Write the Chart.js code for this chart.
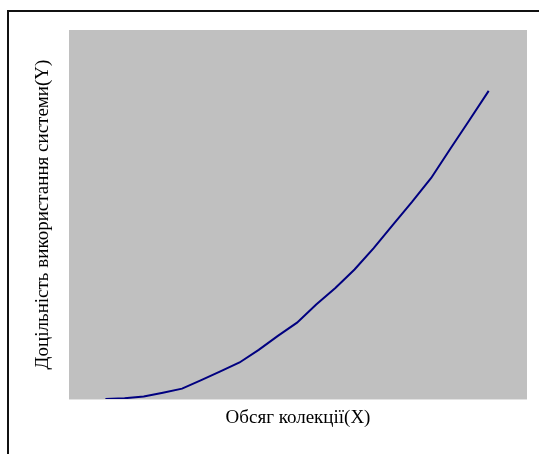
<!DOCTYPE html>
<html>
<head>
<meta charset="utf-8">
<script src="https://cdn.jsdelivr.net/npm/chart.js@4.4.1/dist/chart.umd.min.js"></script>
<style>
  html, body { margin: 0; padding: 0; background: #ffffff; }
  #wrap { position: relative; width: 539px; height: 454px; }
</style>
</head>
<body>
<div id="wrap"><canvas id="c" width="539" height="454"></canvas></div>
<script>
// Data
const xValues = [2, 3, 4, 5, 6, 7, 8, 9, 10, 11, 12, 13, 14, 15, 16, 17, 18, 19, 20, 21, 22];
const yValues = [0, 0.2, 0.7, 1.7, 2.8, 5.1, 7.5, 9.9, 13.3, 17.1, 20.7, 25.6, 30.1, 35.1, 40.9, 47.2, 53.4, 59.9, 67.8, 75.6, 83.5];
const xTitle = 'Обсяг колекції(X)';
const yTitle = 'Доцільність використання системи(Y)';

const points = xValues.map((x, i) => ({ x: x, y: yValues[i] }));

const plotBg = {
  id: 'plotBg',
  beforeDraw(chart) {
    const { ctx, chartArea: a } = chart;
    ctx.save();
    ctx.fillStyle = '#c0c0c0';
    ctx.fillRect(a.left, a.top, a.right - a.left, a.bottom - a.top);
    ctx.strokeStyle = '#e2e2e2';
    ctx.lineWidth = 1;
    ctx.beginPath();
    ctx.moveTo(a.left, a.bottom + 0.5);
    ctx.lineTo(a.right, a.bottom + 0.5);
    ctx.stroke();
    // outer frame (cut off at right and bottom)
    ctx.strokeStyle = '#111';
    ctx.lineWidth = 2;
    ctx.beginPath();
    ctx.moveTo(8, 460);
    ctx.lineTo(8, 11);
    ctx.lineTo(545, 11);
    ctx.stroke();
    ctx.restore();
  }
};

const titleFont = { family: '"Liberation Serif", "DejaVu Serif", serif', size: 19, weight: 'normal' };

new Chart(document.getElementById('c'), {
  type: 'line',
  data: {
    datasets: [{
      data: points,
      borderColor: '#000080',
      borderWidth: 2,
      pointRadius: 0,
      tension: 0,
      fill: false
    }]
  },
  options: {
    responsive: false,
    animation: false,
    layout: { padding: { top: 30, right: 12, left: 0, bottom: 0 } },
    plugins: { legend: { display: false }, tooltip: { enabled: false } },
    scales: {
      x: {
        type: 'linear',
        min: 0.1,
        max: 24,
        grid: { display: false },
        border: { display: false },
        ticks: { display: false },
        title: {
          display: true,
          text: xTitle,
          color: '#000',
          font: titleFont,
          padding: { top: 0, bottom: 24.6 }
        },
        afterFit(s) { s.height = 55; }
      },
      y: {
        type: 'linear',
        min: 0,
        max: 100,
        grid: { display: false },
        border: { display: false },
        ticks: { display: false },
        title: {
          display: true,
          text: yTitle,
          color: '#000',
          font: titleFont,
          padding: { top: 31.6, bottom: 0 }
        },
        afterFit(s) { s.width = 69; }
      }
    }
  },
  plugins: [plotBg]
});
</script>
</body>
</html>
